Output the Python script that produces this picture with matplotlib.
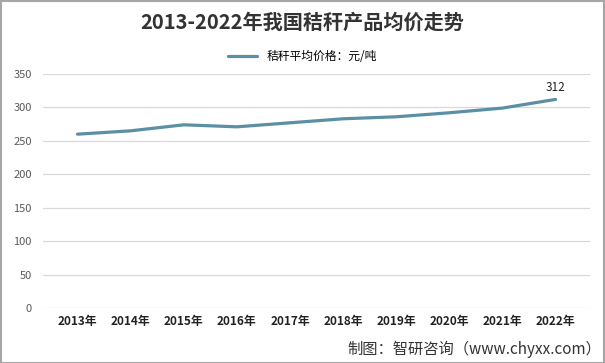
import matplotlib.pyplot as plt
from matplotlib.patches import Rectangle

plt.rcParams['font.family'] = ['Noto Sans CJK SC', 'DejaVu Sans']

# data
years = ["2013年", "2014年", "2015年", "2016年", "2017年", "2018年", "2019年", "2020年", "2021年", "2022年"]
price = [260, 265, 274, 271, 277, 283, 286, 292, 299, 312]
yticks = [0, 50, 100, 150, 200, 250, 300, 350]

fig = plt.figure(figsize=(6.05, 3.63), dpi=100)
ax = fig.add_axes([43 / 605, 1 - 308 / 363, (590 - 43) / 605, (308 - 74) / 363])

x = list(range(len(years)))
ax.plot(x, price, color="#5b8fa3", lw=2.3, solid_capstyle="round", label="秸秆平均价格：元/吨")
ax.annotate(str(price[-1]), (x[-1], price[-1]), xytext=(0, 4), textcoords="offset points",
            ha="center", va="bottom", fontsize=8.5, color="#222222")

ax.set_xlim(-0.65, len(years) - 0.35)
ax.set_ylim(0, 350)
ax.set_yticks(yticks)
ax.set_xticks(x)
ax.set_xticklabels(years, fontsize=8.5, fontweight="bold", color="#222222")
ax.tick_params(axis="y", labelsize=8, labelcolor="#595959", length=0, pad=8)
ax.tick_params(axis="x", length=0, pad=5)
ax.grid(axis="y", color="#d9d9d9", lw=0.9)
ax.set_axisbelow(True)
for s in ax.spines.values():
    s.set_visible(False)

fig.text(0.5, 1 - 22 / 363, "2013-2022年我国秸秆产品均价走势", ha="center", va="center",
         fontsize=14.5, fontweight="bold", color="#333333")
ax.legend(loc="center", bbox_to_anchor=(0.5, 1 - 57 / 363), bbox_transform=fig.transFigure,
          frameon=False, fontsize=8.5, handlelength=2.4)
fig.text(1 - 4 / 605, 1 - 349 / 363, "制图：智研咨询（www.chyxx.com）", ha="right", va="center",
         fontsize=11, color="#333333")

fig.patches.append(Rectangle((0.5 / 605, 0.5 / 363), 1 - 1.5 / 605, 1 - 1.5 / 363, transform=fig.transFigure,
                             fill=False, ec="#a6a6a6", lw=1.5))

fig.savefig("out.png", dpi=100)
